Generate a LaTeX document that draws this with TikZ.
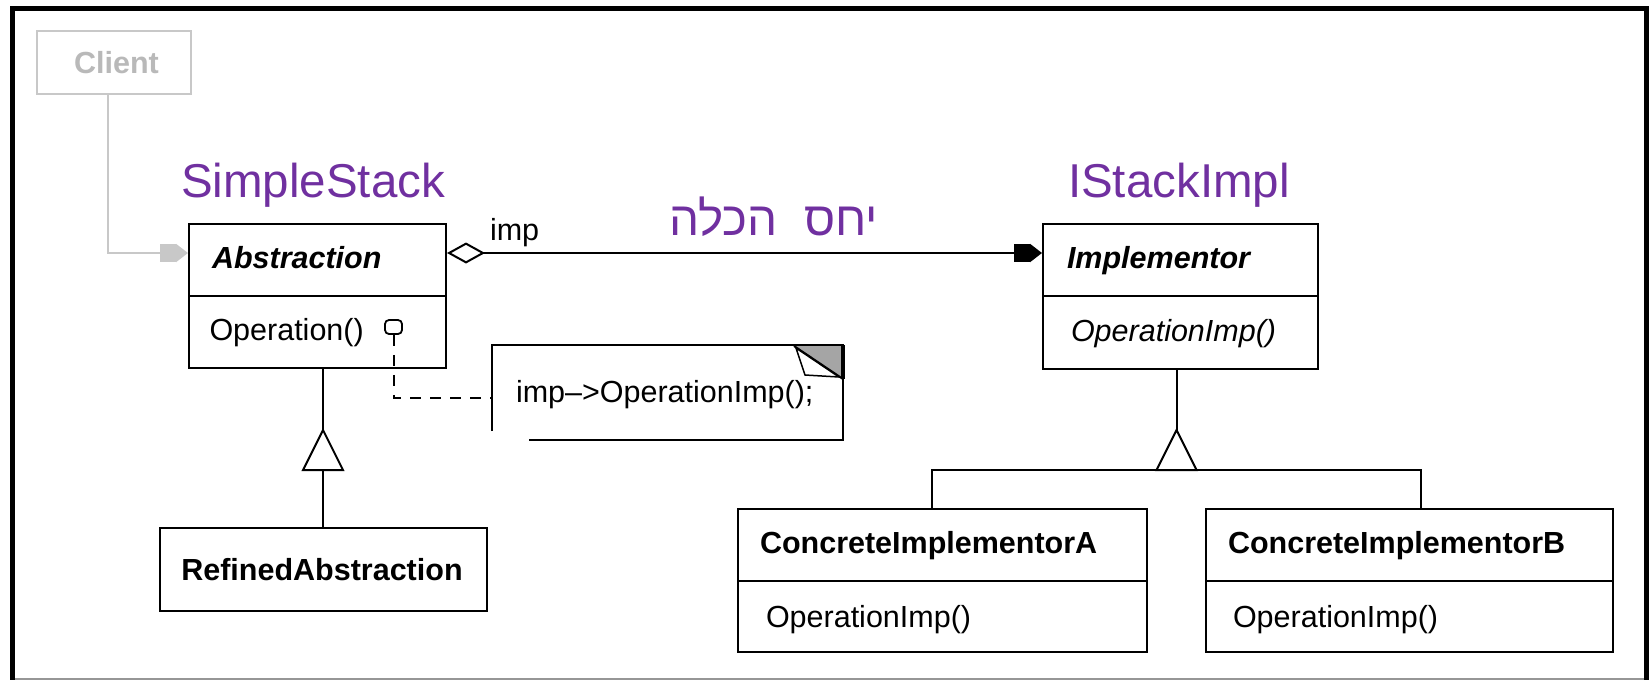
\documentclass[tikz,border=0pt]{standalone}
\usepackage{fontspec}
\setmainfont{Liberation Sans}
\newfontfamily\hebfont[Script=Hebrew]{Liberation Sans}
\TeXXeTstate=1
\usetikzlibrary{arrows.meta,calc}
\definecolor{titlepurple}{RGB}{112,48,160}
\definecolor{clientgray}{RGB}{200,200,200}
\definecolor{clienttext}{RGB}{185,185,185}
\definecolor{foldgray}{RGB}{165,165,165}
\definecolor{framegray}{RGB}{150,150,150}

\tikzset{
  umlbox/.style={draw, line width=2pt, fill=white, inner sep=0pt},
  reg/.style={font=\fontsize{30.5}{36}\selectfont, anchor=base west, inner sep=0pt},
  bd/.style={font=\fontsize{30.5}{36}\selectfont\bfseries, anchor=base west, inner sep=0pt},
  it/.style={font=\fontsize{30.5}{36}\selectfont\itshape, anchor=base west, inner sep=0pt},
  bi/.style={font=\fontsize{30.5}{36}\selectfont\bfseries\itshape, anchor=base west, inner sep=0pt},
  heading/.style={font=\fontsize{47.5}{56}\selectfont, text=titlepurple, anchor=base west, inner sep=0pt},
  plugtip/.tip={Rectangle[length=16pt,width=18pt,sep=0pt] Triangle[length=12pt,width=18pt,sep=0pt]},
  dashline/.style={line width=2pt, dash pattern=on 11pt off 9pt},
  genline/.style={line width=2pt},
}

\begin{document}
\begin{tikzpicture}[x=1pt, y=-1pt, line width=2pt]
\useasboundingbox (0,0) rectangle (1651,680);

% outer frame
\fill (10,6) rectangle (15,680);
\fill (10,6) rectangle (1649,11);
\fill (1644,6) rectangle (1649,680);
\draw[framegray, line width=1.5pt] (15,679) -- (1644,679);

% client
\node[umlbox, draw=clientgray, minimum width=154pt, minimum height=63pt] (client) at (114,62.5) {};
\node[bd, text=clienttext, anchor=base] (clientname) at (116.5,73) {Client};

% abstraction side
\node[heading] (sstack) at (180,197) {SimpleStack};
\node[umlbox, minimum width=257pt, minimum height=144pt] (abs) at (317.5,296) {};
\draw (abs.west) -- (abs.east);
\node[bi] (absname) at (211,268) {Abstraction};
\node[reg] (absop) at (208.5,340) {Operation()};
\node[draw, rounded corners=4pt, minimum width=17pt, minimum height=14pt, line width=1.8pt] (pin) at (393.5,327) {};

\node[umlbox, minimum width=327pt, minimum height=83pt] (ref) at (323,569.5) {};
\node[bd, anchor=base] (refname) at (322,580) {RefinedAbstraction};

% note attached to Operation()
\node[minimum width=349pt, minimum height=93pt, inner sep=0pt] (note) at (667.5,392.5) {};
\fill[foldgray] ($(note.north east)+(-49,1)$) -- ($(note.north east)+(0,1)$) -- ($(note.north east)+(0,34)$) -- cycle;
\draw ($(note.south west)+(0,-9)$) -- (note.north west) -- (note.north east) -- (note.south east) -- ($(note.south west)+(37,0)$);
\draw ($(note.north east)+(-49,1)$) -- ($(note.north east)+(0,34)$);
\filldraw[fill=white, line width=1.5pt] ($(note.north east)+(-47,3)$) -- ($(note.north east)+(-38,30)$) -- ($(note.north east)+(-4,32)$) -- cycle;
\draw[line width=3.5pt] (note.north east) -- ($(note.north east)+(0,34)$);
\node[reg] (notetxt) at (515,402) {imp–>OperationImp();};
\draw[dashline] (pin.south) |- ($(note.west)+(0,5.5)$);

% implementor side
\node[heading] (istack) at (1067,197) {IStackImpl};
\node[umlbox, minimum width=275pt, minimum height=145pt] (impl) at (1180.5,296.5) {};
\draw ($(impl.west)+(0,-0.5)$) -- ($(impl.east)+(0,-0.5)$);
\node[bi] (implname) at (1066,268) {Implementor};
\node[it] (implop) at (1070,341) {OperationImp()};

\node[umlbox, minimum width=409pt, minimum height=143pt] (ca) at (942.5,580.5) {};
\draw (ca.west) -- (ca.east);
\node[bd] (caname) at (759,553) {ConcreteImplementorA};
\node[reg] (caop) at (765,627) {OperationImp()};

\node[umlbox, minimum width=407pt, minimum height=143pt] (cb) at (1409.5,580.5) {};
\draw (cb.west) -- (cb.east);
\node[bd] (cbname) at (1227,553) {ConcreteImplementorB};
\node[reg] (cbop) at (1232,627) {OperationImp()};

% client reference
\draw[clientgray, -{plugtip}] ($(client.south)+(-6,0)$) |- ($(abs.north west)+(0,30)$);

% aggregation Abstraction -> Implementor
\draw[{Diamond[open,length=38pt,width=21pt]}-{plugtip}] ($(abs.north east)+(0,30)$) -- ($(impl.north west)+(0,30)$);
\node[reg] (implbl) at (489,240) {imp};
\node[heading, anchor=base east] (relname) at (879,235) {\hebfont\beginR יחס~~הכלה\endR};

% inheritance Abstraction <- RefinedAbstraction
\coordinate (genA) at ($(abs.south)+(5.5,61)$);
\draw[genline] ($(abs.south)+(5.5,0)$) -- (genA);
\draw[genline] ($(genA)+(0,40)$) -- (genA |- ref.north);
\draw[genline, fill=white] (genA) -- ++(-20,40) -- ++(40,0) -- cycle;

% inheritance Implementor <- concrete implementors
\coordinate (genB) at ($(impl.south)+(-4,60)$);
\draw[genline] ($(impl.south)+(-4,0)$) -- (genB);
\draw[genline] ($(ca.north)+(-10.5,0)$) |- ($(genB)+(0,40)$) -| ($(cb.north)+(11.5,0)$);
\draw[genline, fill=white] (genB) -- ++(-20,40) -- ++(40,0) -- cycle;
\end{tikzpicture}
\end{document}
